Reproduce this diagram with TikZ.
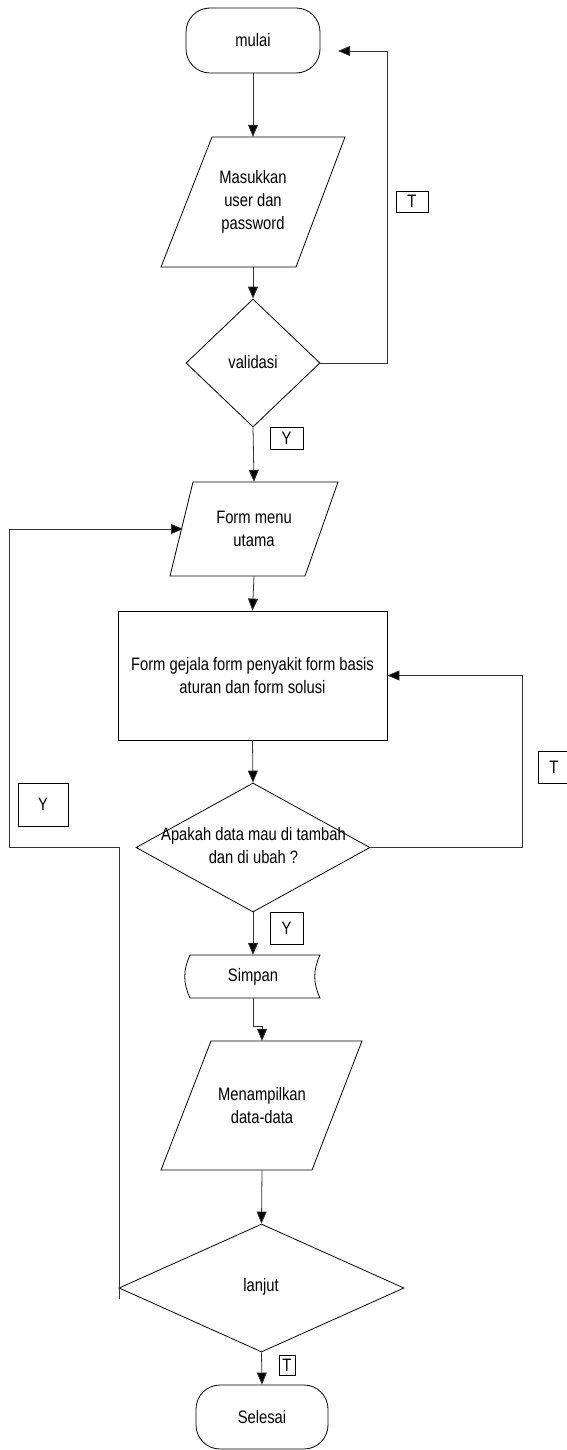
\documentclass[tikz,border=0pt]{standalone}
\usepackage{fontspec}
\setmainfont{Liberation Sans}[FakeStretch=0.82]
\usetikzlibrary{arrows.meta,shapes.geometric}
\begin{document}
\begin{tikzpicture}[x=1pt,y=-1pt,
  every node/.style={font=\fontsize{18}{23}\selectfont, inner sep=0pt},
  shp/.style={draw=black, line width=0.8pt},
  term/.style={draw=black, line width=0.8pt, rounded corners=24pt, minimum width=134pt, minimum height=65pt},
  hold/.style={draw=none, minimum width=#1},
  dia/.style={shape=diamond, draw=black, line width=0.8pt, inner sep=0pt},
  arr/.style={draw=black!80, line width=0.8pt, -{Triangle[length=12pt,width=10pt,fill=black]}},
  ln/.style={draw=black!80, line width=0.8pt},
  lbl/.style={draw=black, line width=0.8pt, align=center}
]
\useasboundingbox (0,0) rectangle (567,1450);

% terminals
\node[term] (mulai) at (253,40.5) {mulai};
\node[term, minimum width=132pt, minimum height=64pt] (selesai) at (262,1417) {Selesai};

% input 1
\draw[shp] (212,137) -- (345,137) -- (296,267) -- (161,267) -- cycle;
\node[hold=130pt, minimum height=130pt, align=center] (masuk) at (253,202) {Masukkan\\user dan\\password};

% validasi
\node[dia, minimum width=134pt, minimum height=128pt] (val) at (253,363) {};
\node (valt) at (253,362) {validasi};

% form menu
\draw[shp] (193,482) -- (338,482) -- (305,576) -- (170,576) -- cycle;
\node[hold=130pt, minimum height=94pt, align=center] (menu) at (254,529) {Form menu\\utama};

% form gejala box
\node[shp, minimum width=269pt, minimum height=129pt, align=center] (gejala) at (252.5,675.5) {Form gejala form penyakit form basis\\aturan dan form solusi};

% decision 2
\node[dia, minimum width=234pt, minimum height=129pt] (dec) at (253,847.5) {};
\node[align=center] (dect) at (253.5,846) {Apakah data mau di tambah\\dan di ubah ?};

% simpan
\draw[shp] (190,955) -- (320,955) .. controls (313,970) and (313,983) .. (320,998) -- (190,998) .. controls (183,983) and (183,970) .. (190,955);
\node[hold=134pt, minimum height=43pt] (simpan) at (253,976.5) {Simpan};

% menampilkan
\draw[shp] (211,1041) -- (362,1041) -- (312,1170) -- (161,1170) -- cycle;
\node[hold=150pt, minimum height=129pt, align=center] (tampil) at (262,1105.5) {Menampilkan\\data-data};

% lanjut
\node[dia, minimum width=285pt, minimum height=128pt] (lanjut) at (261.5,1288) {};
\node (lanjutt) at (261,1287) {lanjut};

% label boxes
\node[lbl, minimum width=32pt, minimum height=21pt] (lT1) at (412,201.5) {T};
\node[lbl, minimum width=33pt, minimum height=22pt] (lY1) at (286.5,438) {Y};
\node[lbl, minimum width=32pt, minimum height=32pt] (lT2) at (554,767) {T};
\node[lbl, minimum width=50pt, minimum height=43pt] (lY2) at (43,804.5) {Y};
\node[lbl, minimum width=33pt, minimum height=32pt] (lY3) at (286.5,928) {Y};
\node[lbl, minimum width=16pt, minimum height=20pt] (lT3) at (287,1365) {T};

% helper coordinates
\coordinate (r1) at (387,51);
\coordinate (tipA) at (338,51);
\coordinate (r2) at (522,675.5);
\coordinate (bend) at (262,1026);
\coordinate (l0) at (119,1299);
\coordinate (l1) at (119,847);
\coordinate (l2) at (9,847);
\coordinate (l3) at (9,529);
\coordinate (tipB) at (183,529);

% connectors
\draw[arr] (mulai.south) -- (masuk.north);
\draw[arr] (masuk.south) -- (val.north);
\draw[arr] (val.east) -| (r1) -- (tipA);
\draw[arr] (val.south) -- (menu.north);
\draw[arr] (menu.south) -- (gejala.north);
\draw[arr] (gejala.south) -- (dec.north);
\draw[arr] (dec.east) -| (r2) -- (gejala.east);
\draw[arr] (dec.south) -- (simpan.north);
\draw[arr] (simpan.south) |- (bend) -- (tampil.north);
\draw[arr] (tampil.south) -- (lanjut.north);
\draw[arr] (lanjut.south) -- (selesai.north);
\draw[arr] (l0) -- (l1) -- (l2) -- (l3) -- (tipB);
\end{tikzpicture}
\end{document}
